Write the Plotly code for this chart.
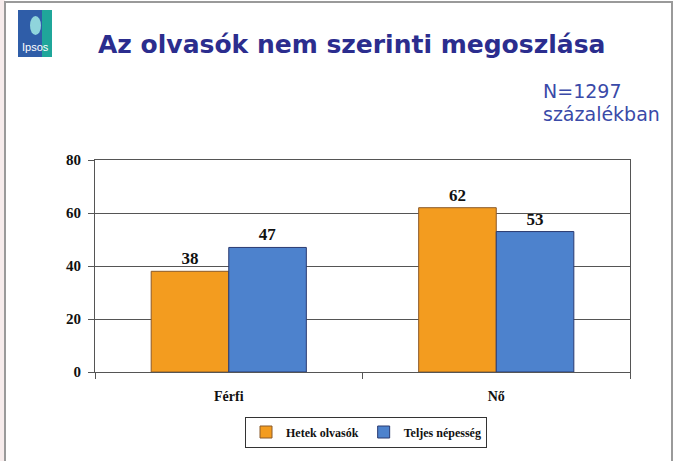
import plotly.graph_objects as go

categories = ["Férfi", "Nő"]
series_names = ["Hetek olvasók", "Teljes népesség"]
hetek_olvasok = [38, 62]
teljes_nepesseg = [47, 53]
y_ticks = [0, 20, 40, 60, 80]

W, H = 682, 461
L, R, T, B = 95, 52, 160, 89
PW, PH = W - L - R, H - T - B

def px(x):
    return (x - L) / PW

def py(y):
    return (H - B - y) / PH

serif = "Liberation Serif, Times New Roman, serif"
sans = "DejaVu Sans, Verdana, sans-serif"

fig = go.Figure()
fig.add_trace(go.Bar(
    x=categories, y=hetek_olvasok, name=series_names[0],
    marker=dict(color="#F39C1F", line=dict(color="#8a5a2a", width=1)),
    text=hetek_olvasok, textposition="outside",
    textfont=dict(family=serif, size=17, color="#111", weight="bold"),
    cliponaxis=False,
))
fig.add_trace(go.Bar(
    x=categories, y=teljes_nepesseg, name=series_names[1],
    marker=dict(color="#4D82CD", line=dict(color="#2a3a70", width=1)),
    text=teljes_nepesseg, textposition="outside",
    textfont=dict(family=serif, size=17, color="#111", weight="bold"),
    cliponaxis=False,
))

fig.update_layout(
    width=W, height=H,
    margin=dict(l=L, r=R, t=T, b=B, autoexpand=False),
    paper_bgcolor="white", plot_bgcolor="white",
    barmode="group", bargap=0.42, bargroupgap=0,
    showlegend=True,
    legend=dict(
        orientation="h", x=px(366), xanchor="center", y=py(432), yanchor="middle",
        bgcolor="white", bordercolor="#333", borderwidth=1,
        font=dict(family=serif, size=12, color="#111", weight="bold"),
        itemwidth=30, tracegroupgap=0,
    ),
    font=dict(family=serif, color="#111"),
)
fig.update_xaxes(
    showline=True, linecolor="#555", linewidth=1, mirror=True,
    ticks="outside", tickson="boundaries", ticklen=6, tickcolor="#555",
    tickfont=dict(family=serif, size=14, color="#111", weight="bold"),
    ticklabelstandoff=11,
    showgrid=False,
)
fig.update_yaxes(
    range=[0, 80], tickvals=y_ticks,
    showline=True, linecolor="#555", linewidth=1, mirror=True,
    ticks="outside", ticklen=6, tickcolor="#555",
    tickfont=dict(family=serif, size=15, color="#111", weight="bold"),
    ticklabelstandoff=4,
    showgrid=True, gridcolor="#555", gridwidth=1,
    zeroline=False,
)

# page frame
fig.add_shape(type="rect", xref="paper", yref="paper",
              x0=px(0), x1=px(5), y0=py(461), y1=py(0),
              fillcolor="#f7ecec", line_width=0, layer="below")
fig.add_shape(type="rect", xref="paper", yref="paper",
              x0=px(5), x1=px(672), y0=py(470), y1=py(2),
              line=dict(color="#9a9a9a", width=2), fillcolor="rgba(0,0,0,0)")

# logo
fig.add_shape(type="rect", xref="paper", yref="paper",
              x0=px(18), x1=px(52), y0=py(57), y1=py(10),
              fillcolor="#2F5DA8", line_width=0, layer="below")
fig.add_shape(type="rect", xref="paper", yref="paper",
              x0=px(42), x1=px(52), y0=py(57), y1=py(10),
              fillcolor="#1FA69A", line_width=0, layer="below")
fig.add_shape(type="circle", xref="paper", yref="paper",
              x0=px(30), x1=px(41), y0=py(35), y1=py(16),
              fillcolor="#8fd4dc", line_width=0, layer="below")
fig.add_annotation(xref="paper", yref="paper", x=px(35), y=py(47),
                   xanchor="center", yanchor="middle",
                   text="Ipsos", showarrow=False,
                   font=dict(family="Liberation Sans, Arial, sans-serif", size=11, color="white"))

# titles
fig.add_annotation(xref="paper", yref="paper", x=px(96), y=py(45),
                   xanchor="left", yanchor="middle",
                   text="<b>Az olvasók nem szerinti megoszlása</b>", showarrow=False,
                   font=dict(family=sans, size=25, color="#2B2D8E"))
fig.add_annotation(xref="paper", yref="paper", x=px(541), y=py(91),
                   xanchor="left", yanchor="middle",
                   text="N=1297", showarrow=False,
                   font=dict(family=sans, size=19, color="#3A4AA8"))
fig.add_annotation(xref="paper", yref="paper", x=px(541), y=py(114),
                   xanchor="left", yanchor="middle",
                   text="százalékban", showarrow=False,
                   font=dict(family=sans, size=19, color="#3A4AA8"))

fig.write_html("out.html", config={"displayModeBar": False},
               post_script="document.body.style.margin='0';")
